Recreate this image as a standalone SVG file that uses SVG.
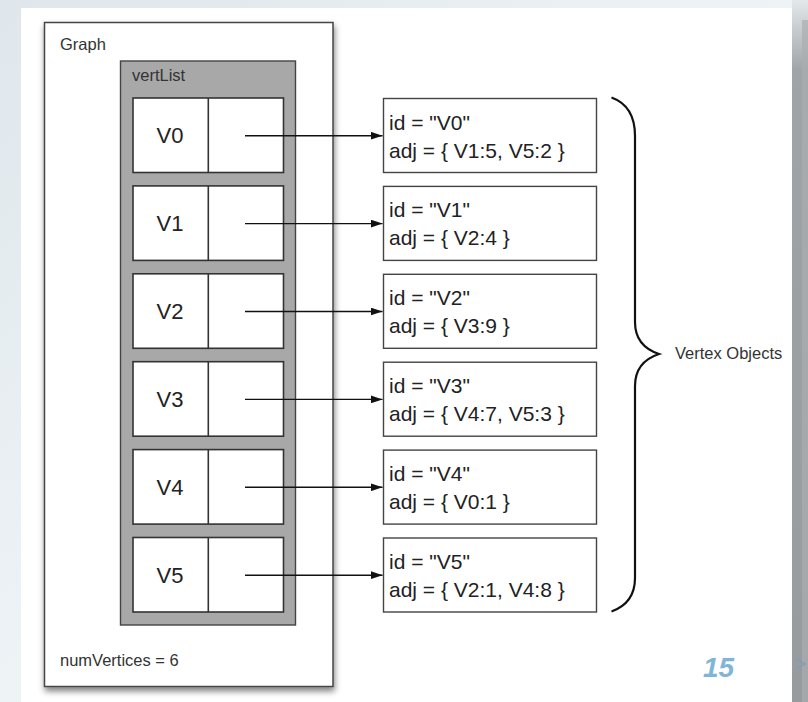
<svg xmlns="http://www.w3.org/2000/svg" width="808" height="702" viewBox="0 0 808 702">
<defs>
<linearGradient id="bg" x1="0" y1="0" x2="1" y2="1">
<stop offset="0" stop-color="#dfe7ec"/>
<stop offset="0.5" stop-color="#eef3f6"/>
<stop offset="1" stop-color="#e4ebef"/>
</linearGradient>
<linearGradient id="band" x1="0" y1="0" x2="0" y2="1">
<stop offset="0" stop-color="#e3e8eb"/>
<stop offset="0.1" stop-color="#9ea4a7"/>
<stop offset="1" stop-color="#979b9d"/>
</linearGradient>
<filter id="shadow" x="-10%" y="-5%" width="125%" height="115%">
<feGaussianBlur in="SourceAlpha" stdDeviation="3"/>
<feOffset dx="1" dy="4" result="b"/>
<feComponentTransfer><feFuncA type="linear" slope="0.5"/></feComponentTransfer>
<feMerge><feMergeNode/><feMergeNode in="SourceGraphic"/></feMerge>
</filter>
<marker id="arrow" viewBox="0 0 12 8" refX="12" refY="4" markerWidth="12" markerHeight="8" markerUnits="userSpaceOnUse" orient="auto">
<path d="M0,0 L12,4 L0,8 z" fill="#111"/>
</marker>
<style>
text{font-family:"Liberation Sans",Arial,sans-serif;fill:#222}
.lbl{font-size:16.5px;fill:#333}
.v{font-size:22px;text-anchor:middle}
.vt{font-size:21px}
.cell{fill:#fff;stroke:#333;stroke-width:1.6}
.obj{fill:#fff;stroke:#444;stroke-width:1.4}
.conn{stroke:#111;stroke-width:1.4;fill:none}
</style>
</defs>
<rect x="0" y="0" width="808" height="702" fill="url(#bg)"/>
<rect x="21" y="8" width="771" height="694" fill="#ffffff"/>
<rect x="792" y="0" width="16" height="702" fill="url(#band)"/>
<rect x="802" y="20" width="6" height="682" fill="#a9aeb0" opacity="0.7"/>

<g id="graph">
<rect x="44.5" y="22.5" width="288.5" height="664" fill="#fff" stroke="#444" stroke-width="1.5" filter="url(#shadow)"/>
<text class="lbl" x="60" y="50">Graph</text>
<text class="lbl" x="60" y="666">numVertices = 6</text>
</g>

<g id="vertList">
<rect x="120.5" y="61" width="175" height="564" fill="#a8a8a8" stroke="#444" stroke-width="1.4"/>
<text class="lbl" x="132" y="81">vertList</text>
</g>

<g id="cell-V0"><rect class="cell" x="133" y="98" width="150.5" height="74.5"/><line class="cell" x1="208.3" y1="98" x2="208.3" y2="172.5"/><text class="v" x="170" y="143">V0</text></g>
<g id="cell-V1"><rect class="cell" x="133" y="185.9" width="150.5" height="74.5"/><line class="cell" x1="208.3" y1="185.9" x2="208.3" y2="260.4"/><text class="v" x="170" y="230.9">V1</text></g>
<g id="cell-V2"><rect class="cell" x="133" y="273.8" width="150.5" height="74.5"/><line class="cell" x1="208.3" y1="273.8" x2="208.3" y2="348.3"/><text class="v" x="170" y="318.8">V2</text></g>
<g id="cell-V3"><rect class="cell" x="133" y="361.7" width="150.5" height="74.5"/><line class="cell" x1="208.3" y1="361.7" x2="208.3" y2="436.2"/><text class="v" x="170" y="406.7">V3</text></g>
<g id="cell-V4"><rect class="cell" x="133" y="449.6" width="150.5" height="74.5"/><line class="cell" x1="208.3" y1="449.6" x2="208.3" y2="524.1"/><text class="v" x="170" y="494.6">V4</text></g>
<g id="cell-V5"><rect class="cell" x="133" y="537.5" width="150.5" height="74.5"/><line class="cell" x1="208.3" y1="537.5" x2="208.3" y2="612"/><text class="v" x="170" y="582.5">V5</text></g>

<g id="obj-V0"><rect class="obj" x="383.5" y="98.5" width="213" height="74"/><text class="vt" x="389" y="129.5">id = "V0"</text><text class="vt" x="389" y="157.5">adj = { V1:5, V5:2 }</text></g>
<g id="obj-V1"><rect class="obj" x="383.5" y="186.4" width="213" height="74"/><text class="vt" x="389" y="217.4">id = "V1"</text><text class="vt" x="389" y="245.4">adj = { V2:4 }</text></g>
<g id="obj-V2"><rect class="obj" x="383.5" y="274.3" width="213" height="74"/><text class="vt" x="389" y="305.3">id = "V2"</text><text class="vt" x="389" y="333.3">adj = { V3:9 }</text></g>
<g id="obj-V3"><rect class="obj" x="383.5" y="362.2" width="213" height="74"/><text class="vt" x="389" y="393.2">id = "V3"</text><text class="vt" x="389" y="421.2">adj = { V4:7, V5:3 }</text></g>
<g id="obj-V4"><rect class="obj" x="383.5" y="450.1" width="213" height="74"/><text class="vt" x="389" y="481.1">id = "V4"</text><text class="vt" x="389" y="509.1">adj = { V0:1 }</text></g>
<g id="obj-V5"><rect class="obj" x="383.5" y="538" width="213" height="74"/><text class="vt" x="389" y="569">id = "V5"</text><text class="vt" x="389" y="597">adj = { V2:1, V4:8 }</text></g>

<g id="connectors">
<line class="conn" x1="245" y1="135.7" x2="382.5" y2="135.7" marker-end="url(#arrow)"/>
<line class="conn" x1="245" y1="223.6" x2="382.5" y2="223.6" marker-end="url(#arrow)"/>
<line class="conn" x1="245" y1="311.5" x2="382.5" y2="311.5" marker-end="url(#arrow)"/>
<line class="conn" x1="245" y1="399.4" x2="382.5" y2="399.4" marker-end="url(#arrow)"/>
<line class="conn" x1="245" y1="487.3" x2="382.5" y2="487.3" marker-end="url(#arrow)"/>
<line class="conn" x1="245" y1="575.2" x2="382.5" y2="575.2" marker-end="url(#arrow)"/>
</g>

<g id="brace">
<path d="M611.5,97.5 Q635,106 635,136 L635,322 Q635,346 659,354 Q635,362 635,386 L635,578 Q635,603 611.5,611.5" fill="none" stroke="#111" stroke-width="2.2"/>
<text class="lbl" x="675" y="359">Vertex Objects</text>
</g>

<text x="703" y="677" font-family="Liberation Sans, Arial, sans-serif" font-size="28" font-style="italic" font-weight="bold" style="fill:#7fb6d8">15</text>
<text x="795" y="670" font-family="Liberation Sans, Arial, sans-serif" font-size="19" style="fill:#7b9fb8">&gt;</text>
</svg>
